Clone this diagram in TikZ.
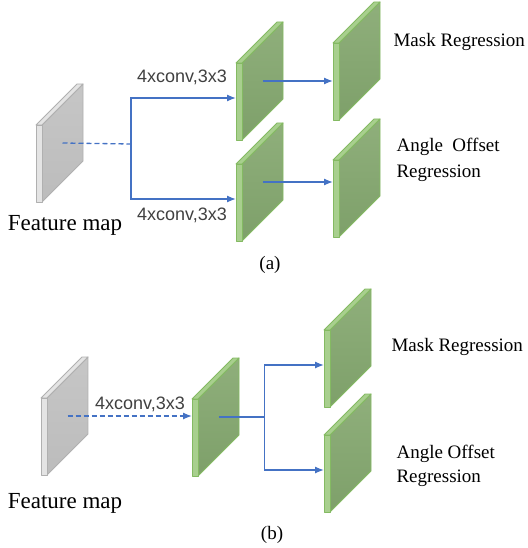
\documentclass[tikz,border=0pt]{standalone}
\usepackage{fontspec}
\setmainfont{Liberation Serif}
\setsansfont{Liberation Sans}
\usetikzlibrary{arrows.meta}
\tikzset{>={Latex[length=9pt,width=7pt]}}

\definecolor{gside1}{RGB}{143,175,123}
\definecolor{gside2}{RGB}{126,160,106}
\definecolor{gfront}{RGB}{168,207,142}
\definecolor{gedge}{RGB}{132,186,98}
\definecolor{kside1}{RGB}{198,198,198}
\definecolor{kside2}{RGB}{188,188,188}
\definecolor{kfront}{RGB}{228,228,228}
\definecolor{kedge}{RGB}{176,176,176}
\definecolor{flow}{RGB}{68,114,196}

\tikzset{
    face/.style={line width=.9pt, line join=round},
    flowline/.style={flow, line width=1.3pt},
    convlbl/.style={font=\sffamily\fontsize{18}{20}\selectfont, text=black!75},
    maplbl/.style={font=\fontsize{23}{25}\selectfont, anchor=base},
    headlbl/.style={font=\fontsize{19}{22}\selectfont, anchor=base west},
    capt/.style={font=\fontsize{19}{22}\selectfont}
}

% \plate{name}{x}{y}{k or g}: thin slab, (name) = middle of the side, (name-w) = front edge
\newcommand{\plate}[4]{%
    \draw[face, draw=#4edge, top color=#4side1, bottom color=#4side2]
        (#2+6,#3)--++(41,-41)--++(0,77)--++(-41,41)--cycle;
    \draw[face, draw=#4edge, fill=#4front](#2,#3)--++(6,0)--++(41,-41)--++(-6,0)--cycle;
    \draw[face, draw=#4edge, fill=#4front](#2,#3)rectangle++(6,77);
    \coordinate(#1)at(#2+26.5,#3+18);
    \coordinate(#1-w)at(#2,#3+35);
}

\begin{document}
\begin{tikzpicture}[x=1pt, y=-1pt]
    \useasboundingbox(0,0)rectangle(527,548);
    % (a)
    \plate{fa}{36}{125}{k}
    \plate{ma1}{236}{63}{g}
    \plate{ma2}{236}{164}{g}
    \plate{ra1}{333}{43}{g}
    \plate{ra2}{333}{160}{g}
    \coordinate(fa-br)at(131,144);
    \draw[flowline, dash pattern=on 5pt off 3pt](fa)--(fa-br);
    \draw[flowline, ->](fa-br)|-(ma1-w);
    \draw[flowline, ->](fa-br)|-(ma2-w);
    \draw[flowline, ->](ma1)--(ma1-|ra1-w);
    \draw[flowline, ->](ma2)--(ma2-|ra2-w);
    \node[convlbl](conv-a1)at(182,77){4xconv,3x3};
    \node[convlbl](conv-a2)at(182,215){4xconv,3x3};
    \node[maplbl](map-a)at(65,230){Feature map};
    \node[headlbl](mask-a)at(390,47){Mask Regression};
    \node[headlbl](angle-a)at(393,152){Angle\ \ Offset};
    \node[headlbl](angle-a2)at(393,177){Regression};
    \node[capt](cap-a)at(270,265){(a)};
    % (b)
    \plate{fb}{41}{398}{k}
    \plate{mb}{192}{399}{g}
    \plate{rb1}{324}{330}{g}
    \plate{rb2}{324}{435}{g}
    \path(mb)++(46,0)coordinate(mb-br);
    \draw[flowline, dash pattern=on 5pt off 3pt, ->](fb)--(fb-|mb-w);
    \draw[flowline](mb)--(mb-br);
    \draw[flowline, ->](mb-br)|-(rb1-w);
    \draw[flowline, ->](mb-br)|-(rb2-w);
    \node[convlbl](conv-b)at(140,404){4xconv,3x3};
    \node[maplbl](map-b)at(65,508){Feature map};
    \node[headlbl](mask-b)at(388,351){Mask Regression};
    \node[headlbl](angle-b)at(393,458){Angle Offset};
    \node[headlbl](angle-b2)at(393,482){Regression};
    \node[capt](cap-b)at(272,535){(b)};
\end{tikzpicture}
\end{document}
